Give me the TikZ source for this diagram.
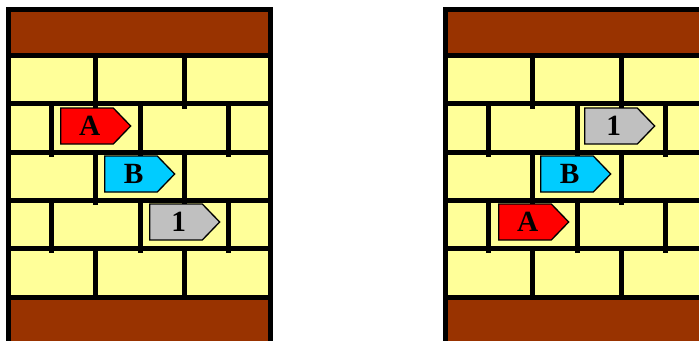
\documentclass[tikz,border=0pt]{standalone}
\usepackage{fontspec}
\setmainfont{Liberation Serif}
\usetikzlibrary{shapes.symbols}
\definecolor{brick}{RGB}{153,51,0}
\definecolor{stone}{RGB}{255,255,153}
\definecolor{tagcyan}{RGB}{0,204,255}
\definecolor{taggray}{RGB}{192,192,192}

\begin{document}
\begin{tikzpicture}[
  x=0.75pt, y=-0.75pt,
  mortar/.style={line width=3.75pt},
  tag/.style={signal, signal to=east, signal pointer angle=92, draw, line width=1pt,
    minimum width=52.5pt, minimum height=27pt, inner sep=0pt, anchor=west,
    font=\fontsize{22}{22}\selectfont\bfseries}
]
  \useasboundingbox (0,0) rectangle (699,340);

  % TWO BRICK WALLS
  \foreach \dx in {0,437} {
    \begin{scope}[shift={(\dx,0)}]
      \fill[brick] (8,9) rectangle (270,55.5);
      \fill[stone] (8,55.5) rectangle (270,297);
      \fill[brick] (8,297) rectangle (270,345);
      \foreach \y in {55.5,103.8,152.1,200.4,248.7,297}
        \draw[mortar] (8,\y) -- (270,\y);
      \foreach \y in {55.5,152.1}
        \foreach \x in {95,184}
          \draw[mortar] (\x,\y) -- (\x,\y+53);
      \foreach \x in {95,184}
        \draw[mortar] (\x,248.7) -- (\x,297);
      \foreach \y in {103.8,200.4}
        \foreach \x in {51,140,228}
          \draw[mortar] (\x,\y) -- (\x,\y+53);
      \draw[mortar] (8,345) -- (8,9) -- (270,9) -- (270,345);
    \end{scope}
  }

  % BEFORE
  \node (tagA) [tag, fill=red] at (60,126) {\kern4pt A};
  \node (tagB) [tag, fill=tagcyan] at (104,174) {\kern4pt B};
  \node (tagOne) [tag, fill=taggray] at (149,222) {\kern4pt 1};

  % AFTER
  \node (tagOneR) [tag, fill=taggray] at (584,126) {\kern4pt 1};
  \node (tagBR) [tag, fill=tagcyan] at (540,174) {\kern4pt B};
  \node (tagAR) [tag, fill=red] at (498,222) {\kern4pt A};

\end{tikzpicture}
\end{document}
